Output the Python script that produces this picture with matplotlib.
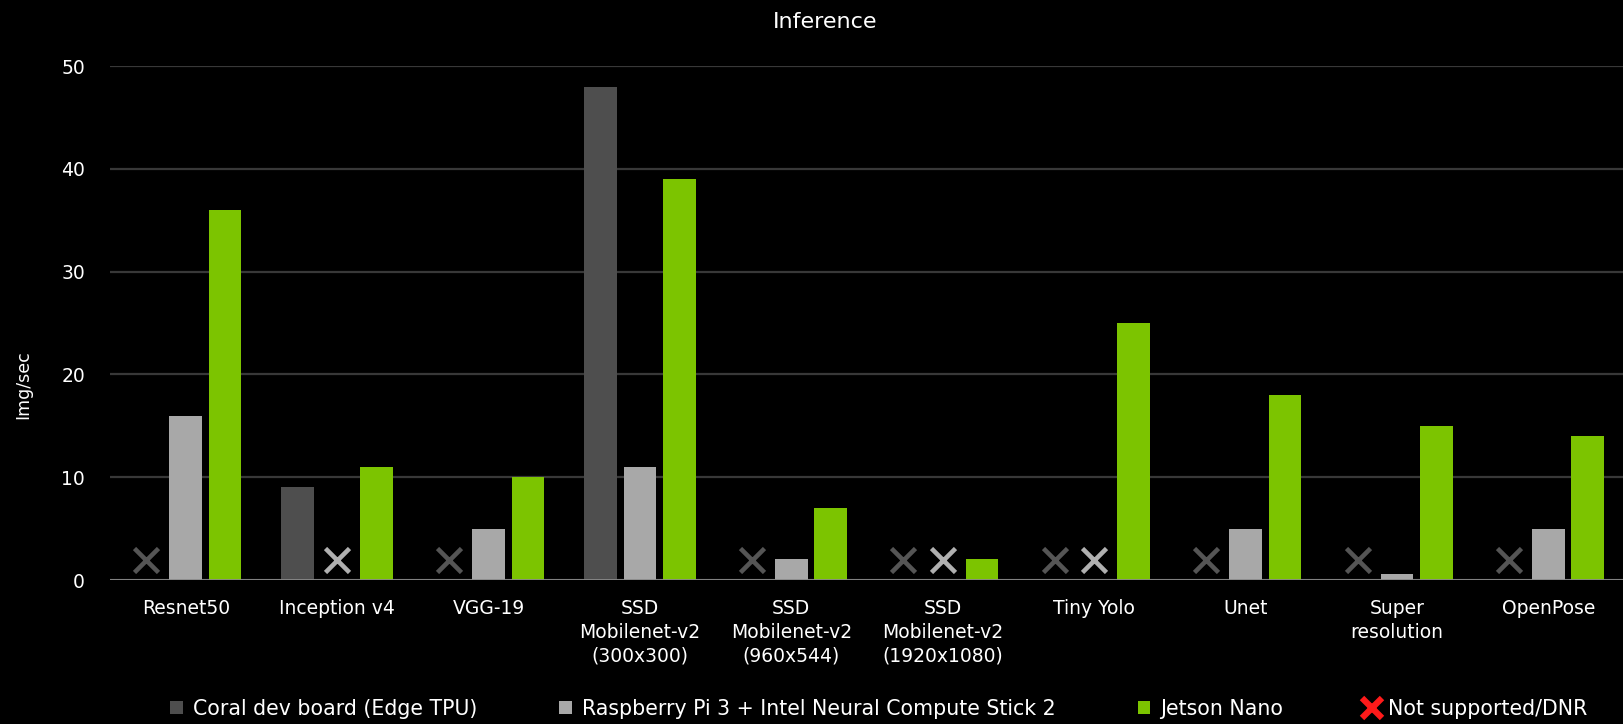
import matplotlib
matplotlib.use("Agg")
import matplotlib.pyplot as plt
import numpy as np
from matplotlib.patches import Patch
from matplotlib.lines import Line2D

# models on the x axis
models = ["Resnet50", "Inception v4", "VGG-19",
          "SSD\nMobilenet-v2\n(300x300)", "SSD\nMobilenet-v2\n(960x544)",
          "SSD\nMobilenet-v2\n(1920x1080)", "Tiny Yolo", "Unet",
          "Super\nresolution", "OpenPose"]

# img/sec, None = not supported / DNR
coral = [None, 9, None, 48, None, None, None, None, None, None]
rpi_ncs2 = [16, None, 5, 11, 2, None, None, 5, 0.6, 5]
jetson = [36, 11, 10, 39, 7, 2, 25, 18, 15, 14]

series_names = ["Coral dev board (Edge TPU)",
                "Raspberry Pi 3 + Intel Neural Compute Stick 2",
                "Jetson Nano"]
na_label = "Not supported/DNR"
yticks = [0, 10, 20, 30, 40, 50]

bg = "black"
col_coral = "#4e4e4e"
col_rpi = "#a8a8a8"
col_jet = "#7cc400"
x_coral = "#555555"
x_rpi = "#b0b0b0"

plt.rcParams['font.family'] = ['DejaVu Sans']

fig = plt.figure(figsize=(16.24, 7.24), dpi=100, facecolor=bg)
ax = fig.add_axes([110 / 1624, 1 - 580 / 724, 1 - 110 / 1624, (580 - 66) / 724])
ax.set_facecolor(bg)

x = np.arange(len(models))
off = 0.26
w = 0.215

for vals, dx, c, xc in [(coral, -off, col_coral, x_coral),
                        (rpi_ncs2, 0, col_rpi, x_rpi),
                        (jetson, off, col_jet, None)]:
    hx = [xi + dx for xi, v in zip(x, vals) if v is not None]
    hv = [v for v in vals if v is not None]
    ax.bar(hx, hv, width=w, color=c, zorder=3)
    mx = [xi + dx for xi, v in zip(x, vals) if v is None]
    if mx:
        ax.plot(mx, [1.9] * len(mx), linestyle="none", marker="x",
                markersize=17, mew=3.3, color=xc, zorder=4)

ax.set_xlim(-0.5, len(models) - 0.5)
ax.set_ylim(0, 50)
ax.set_yticks(yticks)
ax.set_xticks(x)
ax.set_xticklabels(models, fontsize=13.5, color="white", linespacing=1.3)
ax.tick_params(axis="y", colors="white", labelsize=13.5, length=0, pad=18)
ax.tick_params(axis="x", length=0, pad=14)
ax.grid(axis="y", color="#383838", linewidth=1.6, zorder=0)
ax.axhline(0, color="#8a8a8a", linewidth=2, zorder=5)
for s in ax.spines.values():
    s.set_visible(False)

fig.text(23 / 1624, 1 - 385 / 724, "Img/sec", rotation=90, color="white",
         fontsize=12.5, ha="center", va="center")
fig.text(825 / 1624, 1 - 22 / 724, "Inference", color="white",
         fontsize=16, ha="center", va="center")

handles = [Patch(facecolor=col_coral), Patch(facecolor=col_rpi),
           Patch(facecolor=col_jet),
           Line2D([], [], linestyle="none", marker="x", markersize=15,
                  mew=4.5, color="#ff1a1a")]
leg = fig.legend(handles, series_names + [na_label], loc="center",
                 bbox_to_anchor=(879 / 1624, 1 - 709 / 724), ncol=4,
                 frameon=False, fontsize=14.8, handlelength=0.6,
                 handleheight=0.6, handletextpad=0.5, columnspacing=4.0)
for t in leg.get_texts():
    t.set_color("white")

fig.savefig("out.png", dpi=100, facecolor=bg)
